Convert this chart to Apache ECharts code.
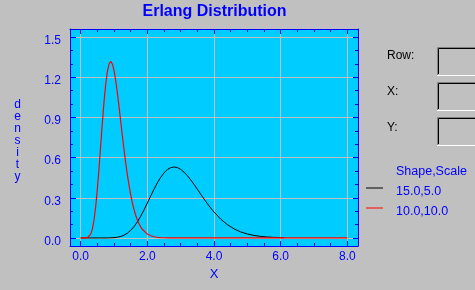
<!DOCTYPE html>
<html>
<head>
<meta charset="utf-8">
<script src="https://cdn.jsdelivr.net/npm/echarts@6/dist/echarts.min.js"></script>
<style>html,body{margin:0;padding:0;background:#c0c0c0;}#c{width:475px;height:290px;}</style>
</head>
<body>
<div id="c"></div>
<script>
// ---- data ----
const seriesNames = ['15.0,5.0', '10.0,10.0'];
const blackX = [0,0.2,0.4,0.6,0.8,1.0,1.1,1.2,1.3,1.4,1.5,1.6,1.7,1.8,1.9,2.0,2.1,2.2,2.3,2.4,2.5,2.6,2.7,2.8,2.9,3.0,3.1,3.2,3.3,3.4,3.5,3.6,3.7,3.8,3.9,4.0,4.2,4.4,4.6,4.8,5.0,5.2,5.4,5.6,5.8,6.0,6.1];
const blackY = [0,0,0,0.00001,0.00028,0.0024,0.0054,0.0111,0.0207,0.0355,0.0565,0.0846,0.1199,0.1619,0.2093,0.2604,0.3127,0.3638,0.4111,0.4525,0.4860,0.5104,0.5251,0.5299,0.5253,0.5122,0.4916,0.4651,0.4340,0.3998,0.3639,0.3274,0.2914,0.2568,0.2240,0.1937,0.1411,0.0995,0.0682,0.0455,0.0297,0.0189,0.0118,0.0072,0.0043,0.0026,0.0020];
const redX = [0,0.05,0.1,0.15,0.2,0.25,0.3,0.35,0.4,0.45,0.5,0.55,0.6,0.65,0.7,0.75,0.8,0.85,0.9,0.95,1.0,1.05,1.1,1.15,1.2,1.25,1.3,1.35,1.4,1.45,1.5,1.55,1.6,1.65,1.7,1.75,1.8,1.85,1.9,2.0,2.1,2.2,2.3,2.4,2.5,2.6,2.8,3.0,8.0];
const redY = [0,0,0.00001,0.00024,0.0019,0.0086,0.027,0.0656,0.1323,0.2317,0.3627,0.5187,0.6883,0.8581,1.0141,1.1444,1.2408,1.2987,1.3176,1.3000,1.2511,1.1772,1.0853,0.9821,0.8737,0.7651,0.6606,0.5627,0.4734,0.3938,0.3241,0.2641,0.2131,0.1705,0.1353,0.1065,0.0833,0.0646,0.0498,0.0291,0.0166,0.0093,0.0051,0.0028,0.0015,0.0008,0.0002,0.0001,0];
const xMajorTicks = [0,2,4,6,8];
const xMinorTicks = [0.5,1,1.5,2.5,3,3.5,4.5,5,5.5,6.5,7,7.5];
const yMajorTicks = [0,0.3,0.6,0.9,1.2,1.5];
const yMinorTicks = [0.1,0.2,0.4,0.5,0.7,0.8,1.0,1.1,1.3,1.4];
const xRange = [-0.32, 8.32];
const yRange = [-0.06, 1.56];
const fieldLabels = ['Row:', 'X:', 'Y:'];

// ---- chart ----
const BLUE = '#0000ff';
const FONT = '"Liberation Sans", Arial, sans-serif';
function zip(xs, ys) { return xs.map((x, i) => [x, ys[i]]); }

function axis(dim, pos, ticks, len, opts) {
  const r = dim === 'x' ? xRange : yRange;
  return Object.assign({
    type: 'value', position: pos, min: r[0], max: r[1],
    axisLine: { show: false, onZero: false },
    axisTick: { show: true, inside: true, length: len, customValues: ticks, lineStyle: { color: BLUE, width: 1 } },
    axisLabel: { show: false },
    splitLine: { show: false },
    minorTick: { show: false }
  }, opts || {});
}
const frameLine = { show: true, onZero: false, lineStyle: { color: BLUE, width: 1 } };

const xAxes = [
  axis('x', 'bottom', xMajorTicks, 5, {
    name: 'X', nameLocation: 'middle', nameGap: 22,
    nameTextStyle: { color: BLUE, fontSize: 13, fontFamily: FONT },
    axisLine: frameLine,
    axisLabel: { show: true, customValues: xMajorTicks, formatter: v => v.toFixed(1), color: BLUE, fontSize: 12, fontFamily: FONT, margin: 5 },
    splitLine: { show: true, customValues: xMajorTicks, lineStyle: { color: '#c0c0c0', width: 1 } }
  }),
  axis('x', 'bottom', xMinorTicks, 3),
  axis('x', 'top', xMajorTicks, 5, { axisLine: frameLine }),
  axis('x', 'top', xMinorTicks, 3)
];
const yAxes = [
  axis('y', 'left', yMajorTicks, 6, {
    name: '{sp| }\nd\ne\nn\ns\ni\nt\ny', nameLocation: 'middle', nameRotate: 0, nameGap: 52.5,
    nameTextStyle: { color: BLUE, fontSize: 12, fontFamily: FONT, align: 'center', verticalAlign: 'middle', lineHeight: 12,
      rich: { sp: { lineHeight: 6, fontSize: 6 } } },
    axisLine: frameLine,
    axisLabel: { show: true, customValues: yMajorTicks, formatter: v => v.toFixed(1), color: BLUE, fontSize: 12, fontFamily: FONT, margin: 9,
      verticalAlign: 'top', lineHeight: 7 },
    splitLine: { show: true, customValues: yMajorTicks, lineStyle: { color: '#c0c0c0', width: 1 } }
  }),
  axis('y', 'left', yMinorTicks, 3),
  axis('y', 'right', yMajorTicks, 5, { axisLine: frameLine }),
  axis('y', 'right', yMinorTicks, 3)
];

const graphic = [
  { type: 'text', x: 396, y: 165, style: { text: 'Shape,Scale', fill: BLUE, font: '12.5px ' + FONT, verticalAlign: 'top' } }
];
const fieldTops = [47, 82, 117];
const labelTops = [50, 86, 122];
fieldLabels.forEach((t, i) => {
  graphic.push({ type: 'text', x: 387, y: labelTops[i], style: { text: t, fill: '#000000', font: '12px ' + FONT, verticalAlign: 'top' } });
  const Y = fieldTops[i];
  graphic.push({ type: 'rect', shape: { x: 437, y: Y, width: 40, height: 29 }, style: { fill: '#c0c0c0' } });
  graphic.push({ type: 'polyline', shape: { points: [[437.5, Y + 28], [437.5, Y + 0.5], [477, Y + 0.5]] }, style: { stroke: '#808080', lineWidth: 1, fill: null } });
  graphic.push({ type: 'polyline', shape: { points: [[438.5, Y + 27], [438.5, Y + 1.5], [477, Y + 1.5]] }, style: { stroke: '#000000', lineWidth: 1, fill: null } });
  graphic.push({ type: 'polyline', shape: { points: [[437, Y + 28.5], [477, Y + 28.5]] }, style: { stroke: '#ffffff', lineWidth: 1, fill: null } });
});

const option = {
  animation: false,
  backgroundColor: '#c0c0c0',
  textStyle: { fontFamily: FONT },
  title: {
    text: 'Erlang Distribution', left: 214.5, top: 4, padding: 0, textAlign: 'center',
    textStyle: { color: BLUE, fontSize: 16, fontWeight: 'bold', fontFamily: FONT }
  },
  grid: { left: 70, right: 117, top: 29, bottom: 44, show: true, backgroundColor: '#00ccff', borderWidth: 0 },
  legend: {
    orient: 'vertical', left: 366, top: 185, padding: 0, itemWidth: 17, itemHeight: 9, itemGap: 6,
    icon: 'path://M0,0H17V1H0Z M0,8H0.02V9H0Z', selectedMode: false,
    textStyle: { color: BLUE, fontSize: 12.5, fontFamily: FONT, lineHeight: 14, padding: [0, 0, 0, 8] },
    data: seriesNames
  },
  xAxis: xAxes,
  yAxis: yAxes,
  series: [
    { name: seriesNames[0], type: 'line', xAxisIndex: 0, yAxisIndex: 0, showSymbol: false, symbol: 'none',
      data: zip(blackX, blackY), itemStyle: { color: '#000000' }, lineStyle: { color: '#000000', width: 1 } },
    { name: seriesNames[1], type: 'line', xAxisIndex: 0, yAxisIndex: 0, showSymbol: false, symbol: 'none',
      data: zip(redX, redY), itemStyle: { color: '#ff0000' }, lineStyle: { color: '#ff0000', width: 1.2 } }
  ],
  graphic: graphic
};
const chart = echarts.init(document.getElementById('c'), null, { renderer: 'canvas' });
chart.setOption(option);
</script>
</body>
</html>
